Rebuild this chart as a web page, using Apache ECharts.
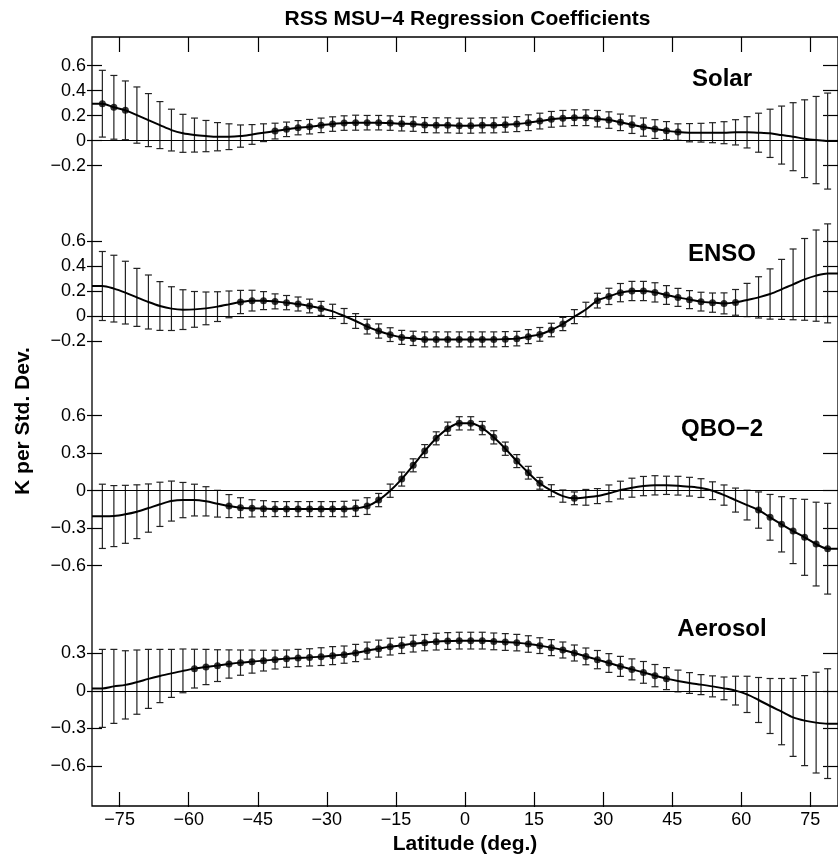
<!DOCTYPE html>
<html>
<head>
<meta charset="utf-8">
<title>RSS MSU-4 Regression Coefficients</title>
<script src="https://cdn.jsdelivr.net/npm/echarts@6/dist/echarts.min.js"></script>
<style>
  html, body { margin: 0; padding: 0; background: #fff; }
  #chart { width: 838px; height: 860px; }
</style>
</head>
<body>
<div id="chart"></div>
<script>
// latitude band centres (2.5 deg grid)
const lat = [-78.75, -76.25, -73.75, -71.25, -68.75, -66.25, -63.75, -61.25, -58.75, -56.25,
  -53.75, -51.25, -48.75, -46.25, -43.75, -41.25, -38.75, -36.25, -33.75, -31.25,
  -28.75, -26.25, -23.75, -21.25, -18.75, -16.25, -13.75, -11.25, -8.75, -6.25,
  -3.75, -1.25, 1.25, 3.75, 6.25, 8.75, 11.25, 13.75, 16.25, 18.75,
  21.25, 23.75, 26.25, 28.75, 31.25, 33.75, 36.25, 38.75, 41.25, 43.75,
  46.25, 48.75, 51.25, 53.75, 56.25, 58.75, 61.25, 63.75, 66.25, 68.75,
  71.25, 73.75, 76.25, 78.75]
const latTicks = [-75, -60, -45, -30, -15, 0, 15, 30, 45, 60, 75]

const solar = [0.296, 0.267, 0.243, 0.205, 0.165, 0.125, 0.085, 0.059, 0.045, 0.037,
  0.032, 0.032, 0.037, 0.05, 0.064, 0.077, 0.091, 0.104, 0.112, 0.123,
  0.133, 0.141, 0.144, 0.144, 0.144, 0.141, 0.136, 0.133, 0.125, 0.123,
  0.123, 0.12, 0.12, 0.123, 0.123, 0.128, 0.133, 0.144, 0.157, 0.171,
  0.179, 0.184, 0.184, 0.176, 0.165, 0.147, 0.128, 0.109, 0.093, 0.08,
  0.069, 0.064, 0.064, 0.064, 0.064, 0.067, 0.067, 0.064, 0.059, 0.045,
  0.032, 0.016, 0.005, -0.003]
const solarErr = [0.267, 0.255, 0.235, 0.225, 0.212, 0.188, 0.167, 0.152, 0.136, 0.125,
  0.113, 0.103, 0.089, 0.079, 0.071, 0.063, 0.058, 0.057, 0.058, 0.058,
  0.058, 0.058, 0.06, 0.058, 0.058, 0.058, 0.058, 0.058, 0.06, 0.06,
  0.06, 0.06, 0.06, 0.06, 0.06, 0.06, 0.06, 0.063, 0.063, 0.063,
  0.063, 0.063, 0.063, 0.066, 0.066, 0.066, 0.07, 0.073, 0.075, 0.073,
  0.066, 0.073, 0.075, 0.08, 0.088, 0.101, 0.125, 0.156, 0.193, 0.232,
  0.272, 0.311, 0.349, 0.384]

const enso = [0.24, 0.219, 0.187, 0.149, 0.112, 0.08, 0.059, 0.051, 0.053, 0.061,
  0.075, 0.093, 0.112, 0.123, 0.123, 0.117, 0.107, 0.096, 0.08, 0.061,
  0.037, 0, -0.04, -0.085, -0.12, -0.149, -0.171, -0.179, -0.187, -0.187,
  -0.187, -0.187, -0.187, -0.187, -0.187, -0.185, -0.181, -0.165, -0.147, -0.112,
  -0.064, -0.005, 0.052, 0.123, 0.157, 0.187, 0.2, 0.2, 0.189, 0.168,
  0.149, 0.131, 0.115, 0.107, 0.101, 0.109, 0.128, 0.149, 0.176, 0.213,
  0.253, 0.293, 0.323, 0.341]
const ensoErr = [0.276, 0.267, 0.251, 0.232, 0.216, 0.195, 0.175, 0.159, 0.143, 0.131,
  0.119, 0.107, 0.093, 0.083, 0.072, 0.06, 0.057, 0.056, 0.055, 0.056,
  0.057, 0.06, 0.059, 0.059, 0.057, 0.055, 0.056, 0.057, 0.06, 0.06,
  0.06, 0.06, 0.06, 0.06, 0.06, 0.06, 0.058, 0.056, 0.055, 0.054,
  0.053, 0.056, 0.058, 0.059, 0.065, 0.073, 0.077, 0.077, 0.077, 0.075,
  0.072, 0.072, 0.075, 0.077, 0.084, 0.103, 0.133, 0.165, 0.201, 0.24,
  0.283, 0.327, 0.365, 0.396]

const qbo = [-0.205, -0.203, -0.189, -0.168, -0.139, -0.109, -0.083, -0.075, -0.075, -0.085,
  -0.104, -0.123, -0.136, -0.141, -0.144, -0.147, -0.147, -0.147, -0.147, -0.147,
  -0.147, -0.147, -0.141, -0.123, -0.075, 0, 0.093, 0.203, 0.317, 0.419,
  0.496, 0.539, 0.539, 0.501, 0.427, 0.336, 0.237, 0.144, 0.059, 0,
  -0.043, -0.061, -0.053, -0.043, -0.021, 0.005, 0.024, 0.037, 0.043, 0.043,
  0.04, 0.032, 0.021, 0, -0.035, -0.075, -0.115, -0.155, -0.213, -0.269,
  -0.323, -0.373, -0.427, -0.464]
const qboErr = [0.257, 0.244, 0.232, 0.215, 0.193, 0.177, 0.16, 0.141, 0.127, 0.117,
  0.107, 0.092, 0.08, 0.069, 0.064, 0.06, 0.06, 0.06, 0.06, 0.06,
  0.06, 0.062, 0.065, 0.067, 0.053, 0.053, 0.056, 0.052, 0.052, 0.052,
  0.053, 0.053, 0.053, 0.053, 0.053, 0.053, 0.052, 0.051, 0.047, 0.048,
  0.049, 0.051, 0.063, 0.06, 0.067, 0.071, 0.076, 0.077, 0.077, 0.073,
  0.075, 0.075, 0.075, 0.071, 0.081, 0.096, 0.119, 0.145, 0.183, 0.221,
  0.26, 0.304, 0.335, 0.363]

const aerosol = [0.021, 0.037, 0.049, 0.071, 0.097, 0.12, 0.141, 0.161, 0.179, 0.192,
  0.203, 0.216, 0.227, 0.235, 0.243, 0.251, 0.259, 0.264, 0.269, 0.275,
  0.283, 0.291, 0.304, 0.323, 0.339, 0.355, 0.365, 0.379, 0.387, 0.395,
  0.4, 0.403, 0.403, 0.403, 0.397, 0.392, 0.387, 0.376, 0.363, 0.347,
  0.328, 0.304, 0.277, 0.251, 0.224, 0.197, 0.173, 0.149, 0.123, 0.099,
  0.08, 0.064, 0.051, 0.037, 0.021, 0.003, -0.027, -0.072, -0.12, -0.165,
  -0.211, -0.237, -0.253, -0.261]
const aerosolErr = [0.312, 0.296, 0.273, 0.257, 0.236, 0.213, 0.192, 0.175, 0.155, 0.141,
  0.127, 0.113, 0.101, 0.092, 0.083, 0.075, 0.069, 0.069, 0.069, 0.071,
  0.072, 0.069, 0.069, 0.068, 0.068, 0.067, 0.065, 0.067, 0.065, 0.067,
  0.067, 0.067, 0.067, 0.067, 0.067, 0.067, 0.066, 0.066, 0.063, 0.064,
  0.064, 0.064, 0.067, 0.073, 0.075, 0.08, 0.084, 0.087, 0.089, 0.088,
  0.087, 0.083, 0.08, 0.084, 0.091, 0.115, 0.145, 0.18, 0.22, 0.265,
  0.312, 0.36, 0.403, 0.439]

const panelNames = ['Solar', 'ENSO', 'QBO\u22122', 'Aerosol']
const panelValues = [solar, enso, qbo, aerosol]
const panelErrors = [solarErr, ensoErr, qboErr, aerosolErr]
const panelMin = [-0.2, -0.2, -0.6, -0.6]
const panelMax = [0.6, 0.6, 0.6, 0.3]
const panelStep = [0.2, 0.2, 0.3, 0.3]

// layout (px)
const FONT = '"Liberation Sans", Arial, Helvetica, sans-serif'
const W = 838
const H = 860
const plotLeft = 92
const plotRight = -5 // frame runs a little past the right edge
const frameTop = 37
const frameBottom = 53
const plotW = W - plotLeft - plotRight
const plotH = H - frameTop - frameBottom
const pxPerUnit = 125
const zeroY = [140.7, 316, 490.7, 691]
const latMin = -81
const latMax = 81

const minus = s => String(s).replace('-', '\u2212')
const yFmt = v => minus(Math.round(v * 10) / 10)
const tickStyle = inside => ({ show: true, inside: inside, length: 15, lineStyle: { color: '#000', width: 1.2 } })

function renderBar (params, api) {
  const hi = api.coord([api.value(0), api.value(2)])
  const lo = api.coord([api.value(0), api.value(1)])
  const cap = 3.5
  const style = { stroke: '#222', lineWidth: 1.2 }
  return {
    type: 'group',
    children: [
      { type: 'line', shape: { x1: hi[0], y1: hi[1], x2: lo[0], y2: lo[1] }, style },
      { type: 'line', shape: { x1: hi[0] - cap, y1: hi[1], x2: hi[0] + cap, y2: hi[1] }, style },
      { type: 'line', shape: { x1: lo[0] - cap, y1: lo[1], x2: lo[0] + cap, y2: lo[1] }, style }
    ]
  }
}

const grid = [{
  left: plotLeft, right: plotRight, top: frameTop, bottom: frameBottom,
  show: true, borderColor: '#000', borderWidth: 1.3, backgroundColor: 'transparent'
}]
const xAxis = [
  // labels only
  {
    gridIndex: 0, type: 'value', min: latMin, max: latMax, position: 'bottom',
    axisLine: { show: false, onZero: false },
    axisTick: { show: false },
    axisLabel: { customValues: latTicks, formatter: minus, color: '#000', fontSize: 18, fontFamily: FONT, margin: 5 },
    splitLine: { show: false },
    name: 'Latitude (deg.)', nameLocation: 'middle', nameGap: 28,
    nameTextStyle: { color: '#000', fontSize: 21, fontWeight: 'bold', fontFamily: FONT }
  },
  // top ticks
  {
    gridIndex: 0, type: 'value', min: latMin, max: latMax, position: 'top',
    axisLine: { show: false, onZero: false },
    axisTick: Object.assign(tickStyle(true), { customValues: latTicks }),
    axisLabel: { show: false },
    splitLine: { show: false }
  },
  // bottom ticks (top axis shifted down onto the bottom edge)
  {
    gridIndex: 0, type: 'value', min: latMin, max: latMax, position: 'top', offset: -plotH,
    axisLine: { show: false, onZero: false },
    axisTick: Object.assign(tickStyle(false), { customValues: latTicks }),
    axisLabel: { show: false },
    splitLine: { show: false }
  }
]
const yAxis = [{ gridIndex: 0, type: 'value', min: 0, max: 1, show: false }]
const series = []

panelNames.forEach((name, k) => {
  const vals = panelValues[k]
  const errs = panelErrors[k]
  const top = zeroY[k] - panelMax[k] * pxPerUnit
  const bottom = H - (zeroY[k] - panelMin[k] * pxPerUnit)
  grid.push({ left: plotLeft, right: plotRight, top: top, bottom: bottom })
  const g = k + 1
  const xi = xAxis.length
  xAxis.push({ gridIndex: g, type: 'value', min: latMin, max: latMax, show: false, axisLine: { onZero: false } })
  const yBase = () => ({
    gridIndex: g, type: 'value', min: panelMin[k], max: panelMax[k], interval: panelStep[k],
    axisLine: { show: false, onZero: false },
    splitLine: { show: false }
  })
  const yi = yAxis.length
  // labels
  yAxis.push(Object.assign(yBase(), {
    position: 'left',
    axisTick: { show: false },
    axisLabel: { formatter: yFmt, color: '#000', fontSize: 18, fontFamily: FONT, margin: 6 }
  }))
  // right-edge ticks
  yAxis.push(Object.assign(yBase(), { position: 'right', axisTick: tickStyle(true), axisLabel: { show: false } }))
  // left-edge ticks (right axis shifted onto the left edge)
  yAxis.push(Object.assign(yBase(), { position: 'right', offset: -plotW, axisTick: tickStyle(false), axisLabel: { show: false } }))

  series.push({
    type: 'custom',
    xAxisIndex: xi, yAxisIndex: yi,
    renderItem: renderBar,
    encode: { x: 0, y: [1, 2] },
    clip: false,
    silent: true,
    z: 2,
    data: lat.map((x, i) => [x, vals[i] - errs[i], vals[i] + errs[i]])
  })

  const curve = lat.map((x, i) => [x, vals[i]])
  curve.unshift([latMin, vals[0]])
  curve.push([latMax, vals[vals.length - 1]])
  series.push({
    type: 'line',
    xAxisIndex: xi, yAxisIndex: yi,
    data: curve,
    smooth: 0.3,
    symbol: 'none',
    clip: false,
    z: 3,
    lineStyle: { color: '#000', width: 2 },
    markLine: {
      silent: true, symbol: 'none', animation: false,
      label: { show: false },
      lineStyle: { color: '#000', width: 1, type: 'solid' },
      data: [{ yAxis: 0 }]
    }
  })

  // dots only where the error bar stays clear of zero
  series.push({
    type: 'scatter',
    xAxisIndex: xi, yAxisIndex: yi,
    data: lat.map((x, i) => [x, vals[i]]).filter((p, i) => Math.abs(vals[i]) > errs[i]),
    symbol: 'circle',
    symbolSize: 7,
    clip: false,
    z: 4,
    itemStyle: { color: '#000' }
  })
})

const labelX = 722
const labelY = [79, 254, 429, 629]
const graphic = [
  {
    type: 'text', x: plotLeft + plotW / 2, y: 19,
    style: { text: 'RSS MSU\u22124 Regression Coefficients', fill: '#000', font: 'bold 21px ' + FONT, textAlign: 'center', textVerticalAlign: 'middle' }
  },
  {
    type: 'text', x: 23, y: 421, rotation: Math.PI / 2,
    style: { text: 'K per Std. Dev.', fill: '#000', font: 'bold 21px ' + FONT, textAlign: 'center', textVerticalAlign: 'middle' }
  }
].concat(panelNames.map((name, k) => ({
  type: 'text', x: labelX, y: labelY[k],
  style: { text: name, fill: '#000', font: 'bold 24px ' + FONT, textAlign: 'center', textVerticalAlign: 'middle' }
})))

const chart = echarts.init(document.getElementById('chart'), null, { renderer: 'canvas' })
chart.setOption({
  animation: false,
  backgroundColor: '#fff',
  grid: grid,
  xAxis: xAxis,
  yAxis: yAxis,
  graphic: graphic,
  series: series
})
</script>
</body>
</html>
